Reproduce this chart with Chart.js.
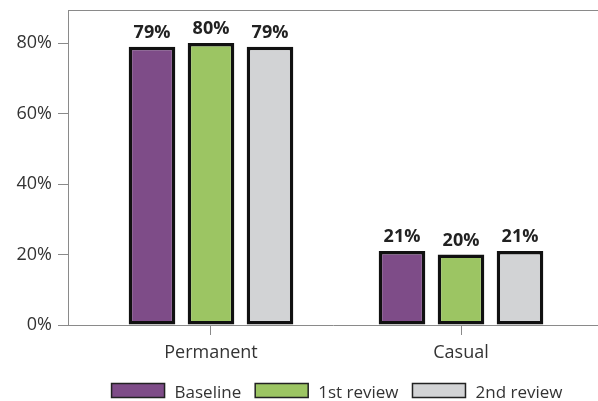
<!DOCTYPE html>
<html>
<head>
<meta charset="utf-8">
<script src="https://cdn.jsdelivr.net/npm/chart.js@4/dist/chart.umd.min.js"></script>
<style>
  html, body { margin: 0; padding: 0; background: #fff; }
  #wrap { width: 598px; height: 401px; position: relative; }
</style>
</head>
<body>
<div id="wrap"><canvas id="c"></canvas></div>
<script>
const categories = ['Permanent', 'Casual'];
const seriesNames = ['Baseline', '1st review', '2nd review'];
const baseline = [79, 21];
const review1 = [80, 20];
const review2 = [79, 21];
const yTickValues = [0, 20, 40, 60, 80];
const seriesColors = ['#7E4C88', '#9CC563', '#D2D3D5'];

const FONT = "'Open Sans', sans-serif";
const TEXT = '#333333';
const AXIS = '#8a8a8a';

const seriesValues = [baseline, review1, review2];

const datasets = seriesNames.map((name, s) => ({
  label: name,
  data: categories.map((c, i) => ({ x: i, y: seriesValues[s][i] })),
  backgroundColor: seriesColors[s],
  borderColor: '#111111',
  borderWidth: 3.5,
  borderSkipped: false,
  categoryPercentage: 0.708,
  barPercentage: 0.79
}));

const frameTop = {
  id: 'frameTop',
  afterDraw(chart) {
    const { ctx, chartArea } = chart;
    ctx.save();
    ctx.strokeStyle = AXIS;
    ctx.lineWidth = 1;
    ctx.beginPath();
    ctx.moveTo(chartArea.left, chartArea.top + 0.5);
    ctx.lineTo(chartArea.right, chartArea.top + 0.5);
    ctx.stroke();
    ctx.restore();
  }
};

const valueLabels = {
  id: 'valueLabels',
  afterDatasetsDraw(chart) {
    const { ctx } = chart;
    ctx.save();
    ctx.font = "bold 18px " + FONT;
    ctx.fillStyle = '#222222';
    ctx.textAlign = 'center';
    ctx.textBaseline = 'alphabetic';
    chart.data.datasets.forEach((ds, s) => {
      const meta = chart.getDatasetMeta(s);
      meta.data.forEach((el, i) => {
        ctx.fillText(ds.data[i].y + '%', el.x, el.y - 9);
      });
    });
    ctx.restore();
  }
};

const customLegend = {
  id: 'customLegend',
  afterDraw(chart) {
    const { ctx, chartArea } = chart;
    const boxW = 53, boxH = 14, gap = 10, spacing = 14;
    ctx.save();
    ctx.font = "17px " + FONT;
    const widths = seriesNames.map(n => ctx.measureText(n).width);
    const total = widths.reduce((a, w) => a + boxW + gap + w, 0) + spacing * (seriesNames.length - 1);
    const center = (chartArea.left + chartArea.right) / 2 + 4;
    let x = center - total / 2;
    const boxTop = chartArea.bottom + 58.5;
    seriesNames.forEach((n, s) => {
      ctx.fillStyle = seriesColors[s];
      ctx.fillRect(x, boxTop, boxW, boxH);
      ctx.strokeStyle = '#222222';
      ctx.lineWidth = 1.5;
      ctx.strokeRect(x, boxTop, boxW, boxH);
      ctx.fillStyle = TEXT;
      ctx.textAlign = 'left';
      ctx.textBaseline = 'alphabetic';
      ctx.fillText(n, x + boxW + gap, boxTop + boxH);
      x += boxW + gap + widths[s] + spacing;
    });
    ctx.restore();
  }
};

new Chart(document.getElementById('c'), {
  type: 'bar',
  data: { datasets },
  plugins: [frameTop, valueLabels, customLegend],
  options: {
    responsive: true,
    maintainAspectRatio: false,
    animation: false,
    layout: { padding: { top: 10, right: 0, left: 0, bottom: 31.5 } },
    plugins: {
      tooltip: { enabled: false },
      legend: { display: false }
    },
    scales: {
      x: {
        type: 'linear',
        min: -0.572,
        max: 1.548,
        offset: false,
        grid: { display: true, drawOnChartArea: false, drawTicks: true, tickLength: 10, color: AXIS, offset: false },
        border: { display: true, color: AXIS, width: 1 },
        afterBuildTicks(scale) { scale.ticks = categories.map((c, i) => ({ value: i })); },
        afterFit(scale) { scale.height = 44.5; scale.paddingLeft = 0; scale.paddingRight = 0; },
        ticks: {
          font: { family: FONT, size: 18 },
          color: TEXT,
          padding: 7,
          maxRotation: 0,
          autoSkip: false,
          callback: (v) => categories[v]
        }
      },
      y: {
        type: 'linear',
        min: 0,
        max: 89.4,
        grid: { display: true, drawOnChartArea: false, drawTicks: true, tickLength: 10, color: AXIS },
        border: { display: true, color: AXIS, width: 1 },
        afterBuildTicks(scale) { scale.ticks = yTickValues.map(v => ({ value: v })); },
        afterFit(scale) { scale.width = 68; scale.paddingTop = 0; scale.paddingBottom = 0; },
        ticks: {
          font: { family: FONT, size: 18 },
          color: TEXT,
          padding: 6,
          callback: (v) => v + '%'
        }
      }
    }
  }
});
</script>
</body>
</html>
